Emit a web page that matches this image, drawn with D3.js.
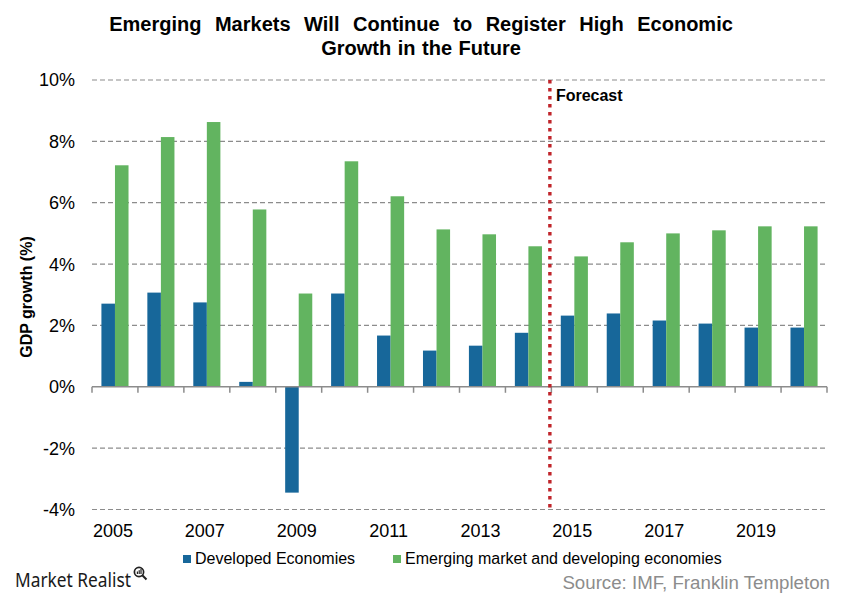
<!DOCTYPE html>
<html>
<head>
<meta charset="utf-8">
<script src="https://cdn.jsdelivr.net/npm/d3@7"></script>
<style>
  html, body { margin: 0; padding: 0; background: #fff; }
  svg { display: block; font-family: "Liberation Sans", Arial, sans-serif; }
</style>
</head>
<body>
<svg id="chart" width="841" height="600"></svg>
<script>
const years = ["2005","2006","2007","2008","2009","2010","2011","2012","2013","2014","2015","2016","2017","2018","2019","2020"];
const developed = [2.71, 3.07, 2.75, 0.16, -3.45, 3.04, 1.67, 1.18, 1.34, 1.76, 2.32, 2.39, 2.16, 2.06, 1.93, 1.93];
const emerging  = [7.22, 8.14, 8.63, 5.78, 3.04, 7.35, 6.21, 5.13, 4.97, 4.58, 4.25, 4.71, 5.00, 5.10, 5.23, 5.23];
const seriesNames = ["Developed Economies", "Emerging market and developing economies"];
const seriesColors = ["#17679a", "#62b460"];
const yTicks = [-4, -2, 0, 2, 4, 6, 8, 10];
const xLabelYears = ["2005","2007","2009","2011","2013","2015","2017","2019"];
const forecastAfter = "2014";
const titleLines = ["Emerging Markets Will Continue to Register High Economic", "Growth in the Future"];

const svg = d3.select("#chart");

const x0 = d3.scaleBand().domain(years).range([92, 827]).paddingInner(0.41).paddingOuter(0.205);
const x1 = d3.scaleBand().domain([0, 1]).range([0, x0.bandwidth()]);
const y = d3.scaleLinear().domain([-4, 10]).range([509.5, 80]);

// gridlines
svg.append("g").selectAll("line").data(yTicks.filter(d => d !== 0)).join("line")
  .attr("x1", 92).attr("x2", 827)
  .attr("y1", d => y(d)).attr("y2", d => y(d))
  .attr("stroke", "#8c8c8c").attr("stroke-width", 1.2)
  .attr("stroke-dasharray", "5,3");

// y labels
svg.append("g").selectAll("text").data(yTicks).join("text")
  .attr("x", 75).attr("y", d => y(d)).attr("dy", "0.36em")
  .attr("text-anchor", "end").attr("font-size", 18).attr("fill", "#000")
  .text(d => d + "%");

// y title
svg.append("text")
  .attr("transform", "translate(32,297) rotate(-90)")
  .attr("text-anchor", "middle").attr("font-size", 16).attr("font-weight", "bold")
  .text("GDP growth (%)");

// bars
const data = years.map((yr, i) => ({ year: yr, vals: [developed[i], emerging[i]] }));
const groups = svg.append("g").selectAll("g").data(data).join("g")
  .attr("transform", d => `translate(${x0(d.year)},0)`);
groups.selectAll("rect").data(d => d.vals.map((v, k) => ({ v, k }))).join("rect")
  .attr("x", d => x1(d.k)).attr("width", x1.bandwidth())
  .attr("y", d => y(Math.max(0, d.v)))
  .attr("height", d => Math.abs(y(d.v) - y(0)))
  .attr("fill", d => seriesColors[d.k]);

// zero axis
const step = x0.step();
const gap = step - x0.bandwidth();
const bounds = years.map(yr => x0(yr) - gap / 2).concat([x0(years[years.length - 1]) + x0.bandwidth() + gap / 2]);
svg.append("line").attr("x1", bounds[0]).attr("x2", bounds[bounds.length - 1])
  .attr("y1", y(0)).attr("y2", y(0)).attr("stroke", "#8c8c8c").attr("stroke-width", 1.5);
svg.append("g").selectAll("line").data(bounds).join("line")
  .attr("x1", d => d).attr("x2", d => d)
  .attr("y1", y(0)).attr("y2", y(0) + 6)
  .attr("stroke", "#8c8c8c").attr("stroke-width", 1.5);

// x labels
svg.append("g").selectAll("text").data(xLabelYears).join("text")
  .attr("x", d => x0(d) + x0.bandwidth() / 2 - 2).attr("y", 537)
  .attr("text-anchor", "middle").attr("font-size", 18).text(d => d);

// forecast line
const fi = years.indexOf(forecastAfter);
const fx = bounds[fi + 1] - 1.5;
svg.append("line").attr("x1", fx).attr("x2", fx)
  .attr("y1", y(10)).attr("y2", y(-4) - 1)
  .attr("stroke", "#c0252b").attr("stroke-width", 3.4)
  .attr("stroke-dasharray", "3.4,4.6");
svg.append("text").attr("x", fx + 6).attr("y", 101)
  .attr("font-size", 16).attr("font-weight", "bold").text("Forecast");

// title
svg.append("g").selectAll("text").data(titleLines).join("text")
  .attr("x", 421).attr("y", (d, i) => 31 + i * 24)
  .attr("text-anchor", "middle").attr("font-size", 20).attr("font-weight", "bold")
  .attr("word-spacing", (d, i) => i === 0 ? 8 : 1)
  .text(d => d);

// legend
const legendX = [183, 393];
const lg = svg.append("g").selectAll("g").data(seriesNames).join("g")
  .attr("transform", (d, i) => `translate(${legendX[i]},555)`);
lg.append("rect").attr("width", 8).attr("height", 8).attr("fill", (d, i) => seriesColors[i]);
lg.append("text").attr("x", 12).attr("y", 9).attr("font-size", 16).text(d => d);

// branding
svg.append("text").attr("x", 15).attr("y", 587)
  .attr("font-family", "'Noto Sans', sans-serif").attr("font-size", 19).attr("fill", "#1a1a1a")
  .attr("textLength", 116).attr("lengthAdjust", "spacingAndGlyphs")
  .text("Market Realist");
const icon = svg.append("g").attr("transform", "translate(139,572)");
icon.append("circle").attr("r", 4.6).attr("fill", "none").attr("stroke", "#222").attr("stroke-width", 1.7);
icon.append("line").attr("x1", 3.3).attr("y1", 3.3).attr("x2", 7.5).attr("y2", 7.5).attr("stroke", "#222").attr("stroke-width", 2);
icon.append("rect").attr("x", -2.2).attr("y", -0.5).attr("width", 1.2).attr("height", 2.5).attr("fill", "#222");
icon.append("rect").attr("x", -0.4).attr("y", -1.8).attr("width", 1.2).attr("height", 3.8).attr("fill", "#222");
icon.append("rect").attr("x", 1.4).attr("y", -3).attr("width", 1.2).attr("height", 5).attr("fill", "#222");

svg.append("text").attr("x", 830).attr("y", 589)
  .attr("text-anchor", "end").attr("font-size", 18.7).attr("fill", "#8c8c8c")
  .text("Source: IMF, Franklin Templeton");
</script>
</body>
</html>
